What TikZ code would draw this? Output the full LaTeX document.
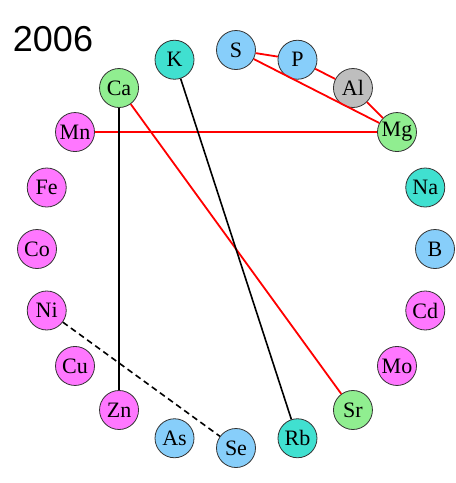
\documentclass[tikz,border=0pt]{standalone}
\usepackage{fontspec}
\setmainfont{Liberation Serif}
\newfontfamily\labelsans{Liberation Sans}
\definecolor{cmag}{HTML}{FF77FF}
\definecolor{cblue}{HTML}{87CEFA}
\definecolor{cturq}{HTML}{40E0D0}
\definecolor{cgreen}{HTML}{90EE90}
\definecolor{cgrey}{HTML}{BEBEBE}
\tikzset{
  elem/.style={circle, draw=black!80, line width=0.8pt, minimum size=39pt, inner sep=0pt, font=\fontsize{22}{22}\selectfont},
  redline/.style={draw=red, line width=1.8pt},
  blkline/.style={draw=black, line width=1.6pt},
}
\begin{document}
\begin{tikzpicture}[x=1pt,y=-1pt]
\useasboundingbox (0,0) rectangle (456,483);
\node[font=\labelsans\fontsize{36}{36}\selectfont] (yr) at (53,39) {2006};
\foreach \n/\a/\c in {S/90/cblue, P/72/cblue, Al/54/cgrey, Mg/36/cgreen, Na/18/cturq, B/0/cblue, Cd/-18/cmag, Mo/-36/cmag, Sr/-54/cgreen, Rb/-72/cturq, Se/-90/cblue, As/-108/cblue, Zn/-126/cmag, Cu/-144/cmag, Ni/-162/cmag, Co/180/cmag, Fe/162/cmag, Mn/144/cmag, Ca/126/cgreen, K/108/cturq}{
  \node[elem, fill=\c] (\n) at ({236+199*cos(\a)},{249-199*sin(\a)}) {\n};
}
\draw[redline] (S) -- (P);
\draw[redline] (S) -- (Mg);
\draw[redline] (P) -- (Al);
\draw[redline] (Al) -- (Mg);
\draw[redline] (Mn) -- (Mg);
\draw[redline] (Ca) -- (Sr);
\draw[blkline] (Ca) -- (Zn);
\draw[blkline] (K) -- (Rb);
\draw[blkline, dash pattern=on 6pt off 4pt] (Ni) -- (Se);
\end{tikzpicture}
\end{document}
